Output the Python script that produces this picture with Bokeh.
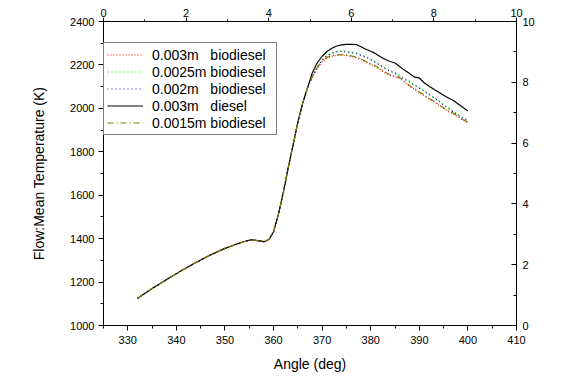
from bokeh.plotting import figure
from bokeh.models import LinearAxis, Range1d, Legend, LegendItem, SingleIntervalTicker
from bokeh.embed import file_html
from bokeh.resources import INLINE

angles = [332, 335, 338, 341, 344, 347, 350, 352, 354, 355.5, 357, 358, 359, 360, 361, 362, 363, 364, 365, 366,
          367, 368, 369, 370, 371, 372, 373, 374, 375, 376, 377, 378, 379, 380, 381, 382, 383, 384, 385, 386,
          387, 388, 389, 390, 391, 392, 393, 394, 395, 396, 397, 398, 399, 400]

common = [1125, 1170, 1212, 1252, 1290, 1325, 1355, 1372, 1387, 1395, 1390, 1386, 1395, 1432, 1512, 1612, 1725, 1830, 1935, 2025, 2095]

bio_003 = common + [2145, 2185, 2215, 2232, 2240, 2244, 2245, 2243, 2239, 2233, 2225, 2213, 2202, 2192, 2178, 2163, 2152, 2145, 2138,
                    2120, 2101, 2088, 2072, 2058, 2043, 2030, 2015, 2000, 1985, 1975, 1960, 1946, 1933]
bio_0025 = common + [2150, 2192, 2225, 2245, 2256, 2263, 2265, 2263, 2259, 2255, 2247, 2238, 2227, 2214, 2200, 2186, 2174, 2164, 2150,
                     2137, 2124, 2110, 2095, 2082, 2067, 2052, 2036, 2018, 2002, 1986, 1971, 1957, 1945]
bio_002 = common + [2148, 2190, 2222, 2242, 2253, 2260, 2262, 2260, 2256, 2252, 2244, 2235, 2224, 2211, 2197, 2183, 2171, 2161, 2147,
                    2134, 2121, 2107, 2092, 2079, 2064, 2049, 2033, 2015, 1999, 1983, 1968, 1954, 1942]
diesel_003 = common + [2165, 2210, 2240, 2262, 2277, 2287, 2292, 2295, 2295, 2294, 2284, 2272, 2263, 2252, 2238, 2225, 2216, 2209, 2192,
                       2175, 2160, 2144, 2140, 2118, 2102, 2088, 2074, 2060, 2048, 2036, 2020, 2004, 1988]
bio_0015 = common + [2147, 2188, 2218, 2235, 2243, 2247, 2248, 2246, 2242, 2236, 2228, 2216, 2205, 2195, 2181, 2166, 2155, 2148, 2141,
                     2123, 2104, 2091, 2075, 2061, 2046, 2033, 2018, 2003, 1988, 1978, 1963, 1949, 1936]

labels = ["0.003m\u00a0\u00a0\u00a0biodiesel", "0.0025m biodiesel\u00a0\u00a0", "0.002m\u00a0\u00a0\u00a0biodiesel",
          "0.003m\u00a0\u00a0\u00a0diesel", "0.0015m biodiesel"]

p = figure(width=564, height=374, output_backend="svg", toolbar_location=None,
           x_range=Range1d(325, 410), y_range=Range1d(1000, 2400),
           min_border_left=103, min_border_right=48, min_border_top=21, min_border_bottom=46)
p.xgrid.visible = False
p.ygrid.visible = False
p.outline_line_color = "black"
p.outline_line_width = 1
p.background_fill_color = "white"
p.border_fill_color = "white"

p.extra_x_ranges = {"top": Range1d(0, 10)}
p.extra_y_ranges = {"right": Range1d(0, 10)}

tick_font = "Liberation Sans"

def style_axis(ax, size="11px"):
    ax.axis_line_color = "black"
    ax.major_tick_line_color = "black"
    ax.minor_tick_line_color = "black"
    ax.major_label_text_font = tick_font
    ax.major_label_text_font_size = size
    ax.major_label_text_color = "black"
    ax.axis_label_text_font = tick_font
    ax.axis_label_text_font_style = "normal"
    ax.axis_label_text_font_size = "14px"
    ax.axis_label_text_color = "black"

xa = p.xaxis[0]
xa.ticker = SingleIntervalTicker(interval=10, num_minor_ticks=2)
xa.axis_label = "Angle (deg)"
xa.major_tick_out = 5
xa.major_tick_in = 0
xa.minor_tick_out = 3
xa.minor_tick_in = 0
xa.major_label_standoff = 5
xa.axis_label_standoff = 9
style_axis(xa)

ya = p.yaxis[0]
ya.ticker = SingleIntervalTicker(interval=200, num_minor_ticks=2)
ya.axis_label = "Flow:Mean Temperature (K)"
ya.major_tick_out = 5
ya.major_tick_in = 0
ya.minor_tick_out = 3
ya.minor_tick_in = 0
ya.major_label_standoff = 4
ya.axis_label_standoff = 20
style_axis(ya)

top = LinearAxis(x_range_name="top", ticker=SingleIntervalTicker(interval=2, num_minor_ticks=2))
top.major_tick_out = 4
top.major_tick_in = 0
top.minor_tick_out = 2
top.minor_tick_in = 0
top.major_label_standoff = 1
style_axis(top)
p.add_layout(top, "above")

right = LinearAxis(y_range_name="right", ticker=SingleIntervalTicker(interval=2, num_minor_ticks=2))
right.major_tick_out = 0
right.major_tick_in = 5
right.minor_tick_out = 0
right.minor_tick_in = 3
right.major_label_standoff = 6
style_axis(right)
p.add_layout(right, "right")

series = [bio_003, bio_0025, bio_002, diesel_003, bio_0015]
colors = ["#ff0000", "#00dd00", "#0000cc", "#000000", "#808000"]
dashes = ["1 2", "1 3", "1 3", "solid", "6 3 1 3"]
items = []
for lab, ys, c, d in zip(labels, series, colors, dashes):
    r = p.line(angles, ys, line_color=c, line_width=1.2, line_dash=d)
    items.append(LegendItem(label=lab, renderers=[r]))

leg = Legend(items=items, location=(0, 190))
leg.border_line_color = "black"
leg.border_line_width = 1
leg.background_fill_color = "white"
leg.background_fill_alpha = 1
leg.label_text_font = tick_font
leg.label_text_font_size = "14px"
leg.label_text_color = "black"
leg.glyph_width = 36
leg.glyph_height = 17
leg.label_height = 17
leg.spacing = 0
leg.padding = 3
leg.margin = 0
leg.label_standoff = 9
p.add_layout(leg, "center")

open("out.html", "w").write(file_html(p, INLINE))
